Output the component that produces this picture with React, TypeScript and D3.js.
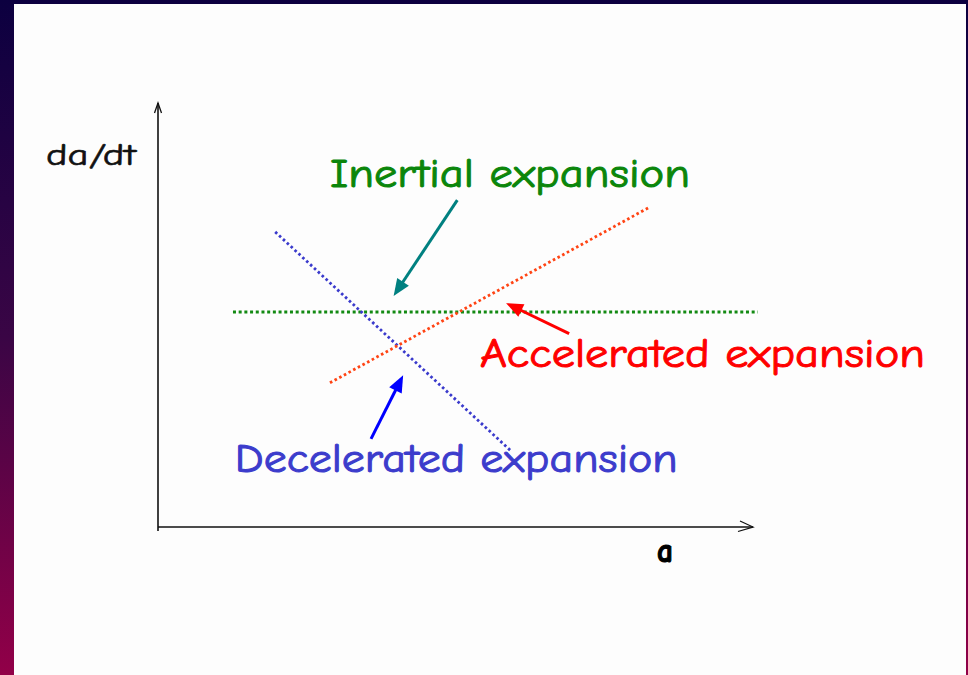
import React from "react";
import * as d3 from "d3";

// Curves: scale factor a (x) vs expansion rate da/dt (y), arbitrary units 0..100
const inertialLine = [
  { a: 12.6, v: 50.7 },
  { a: 100.8, v: 50.7 },
];
const deceleratedLine = [
  { a: 19.7, v: 69.6 },
  { a: 59.5, v: 17.7 },
];
const acceleratedLine = [
  { a: 28.9, v: 34.0 },
  { a: 82.7, v: 75.5 },
];

// annotation labels and pointers
const labelNames = ["Inertial expansion", "Accelerated expansion", "Decelerated expansion"];
const labelAnchors = [
  { a: 28.9, v: 80.3 },
  { a: 54.1, v: 37.7 },
  { a: 12.9, v: 12.9 },
];
const labelWidths = [360, 445, 443];
const pointerFrom = [
  { a: 50.3, v: 77.1 },
  { a: 69.1, v: 45.6 },
  { a: 35.8, v: 20.8 },
];
const pointerTo = [
  { a: 39.6, v: 54.5 },
  { a: 58.5, v: 52.8 },
  { a: 41.2, v: 35.8 },
];

const axisTitles = ["a", "da/dt"];

const W = 968;
const H = 675;

export default function App() {
  const x = d3.scaleLinear().domain([0, 100]).range([158, 753]);
  const y = d3.scaleLinear().domain([0, 100]).range([527, 103]);
  const line = d3
    .line<{ a: number; v: number }>()
    .x((d) => x(d.a))
    .y((d) => y(d.v));

  const font = "'Comic Sans MS', 'Comic Neue', 'DejaVu Sans', sans-serif";
  const textColors = ["#0b860b", "#ff0000", "#3c3ccc"];
  const arrowColors = ["#008080", "#ff0000", "#0000ff"];

  const arrowHead = (from: { a: number; v: number }, to: { a: number; v: number }) => {
    const x1 = x(from.a), y1 = y(from.v), x2 = x(to.a), y2 = y(to.v);
    const ang = Math.atan2(y2 - y1, x2 - x1);
    const len = 17, half = 7;
    const bx = x2 - len * Math.cos(ang), by = y2 - len * Math.sin(ang);
    const px = -Math.sin(ang), py = Math.cos(ang);
    return {
      shaft: `M${x1},${y1}L${bx + 3 * Math.cos(ang)},${by + 3 * Math.sin(ang)}`,
      head: `M${x2},${y2}L${bx + half * px},${by + half * py}L${bx - half * px},${by - half * py}Z`,
    };
  };

  const x0 = x(0), y0 = y(0), xEnd = x(100), yTop = y(100);

  return (
    <svg
      width={W}
      height={H}
      style={{ position: "fixed", left: 0, top: 0 }}
      xmlns="http://www.w3.org/2000/svg"
    >
      <defs>
        <linearGradient id="bg" x1="0" y1="0" x2="0" y2="1">
          <stop offset="0" stopColor="#0c0040" />
          <stop offset="0.5" stopColor="#3a0545" />
          <stop offset="1" stopColor="#920048" />
        </linearGradient>
      </defs>
      <rect x={0} y={0} width={W} height={H} fill="url(#bg)" />
      <rect x={14} y={4} width={952} height={H - 4} fill="#fdfdfd" />

      {/* axes */}
      <g stroke="#111" strokeWidth={1.6} fill="none">
        <path d={`M${x0},${y0 + 4}L${x0},${yTop}`} />
        <path d={`M${x0 - 3.5},${yTop + 10}L${x0},${yTop}L${x0 + 3.5},${yTop + 10}`} strokeWidth={1.3} />
        <path d={`M${x0},${y0}L${xEnd},${y0}`} />
        <path d={`M${xEnd - 13},${y0 - 6}L${xEnd},${y0}L${xEnd - 15},${y0 + 4.5}`} strokeWidth={1.3} />
      </g>
      <text x={46} y={165} fontFamily={font} fontSize={31} textLength={90} lengthAdjust="spacingAndGlyphs" fill="#111" stroke="#111" strokeWidth={0.6}>
        {axisTitles[1]}
      </text>
      <text x={657} y={562} fontFamily={font} fontSize={35} fontWeight="bold" textLength={16} lengthAdjust="spacingAndGlyphs" fill="#000" stroke="#000" strokeWidth={1.2}>
        {axisTitles[0]}
      </text>

      {/* dotted curves */}
      <path d={line(inertialLine) ?? ""} stroke="#138a13" strokeWidth={3} strokeDasharray="3 2.7" fill="none" />
      <path d={line(deceleratedLine) ?? ""} stroke="#3a3acc" strokeWidth={2.8} strokeDasharray="2.6 2.7" fill="none" />
      <path d={line(acceleratedLine) ?? ""} stroke="#ff4414" strokeWidth={2.8} strokeDasharray="2.6 2.7" fill="none" />

      {/* pointers */}
      {pointerFrom.map((f, i) => {
        const ah = arrowHead(f, pointerTo[i]);
        return (
          <g key={i}>
            <path d={ah.shaft} stroke={arrowColors[i]} strokeWidth={3} fill="none" />
            <path d={ah.head} fill={arrowColors[i]} />
          </g>
        );
      })}

      {/* labels */}
      {labelNames.map((name, i) => (
        <text
          key={name}
          x={x(labelAnchors[i].a)}
          y={y(labelAnchors[i].v)}
          fontFamily={font}
          fontSize={41}
          textLength={labelWidths[i]}
          lengthAdjust="spacingAndGlyphs"
          fill={textColors[i]}
          stroke={textColors[i]}
          strokeWidth={1}
        >
          {name}
        </text>
      ))}
    </svg>
  );
}
